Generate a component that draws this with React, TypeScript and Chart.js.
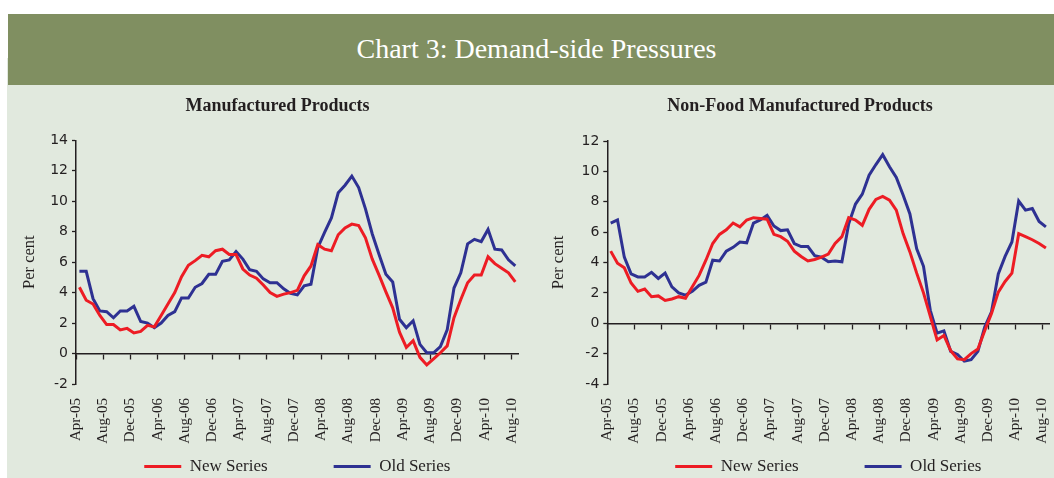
import React, { useEffect, useRef } from 'react';
import { Chart, registerables } from 'chart.js';

Chart.register(...registerables);

// ---------- data ----------
const months = [
  'Apr-05', 'May-05', 'Jun-05', 'Jul-05', 'Aug-05', 'Sep-05', 'Oct-05', 'Nov-05', 'Dec-05', 'Jan-06', 'Feb-06', 'Mar-06',
  'Apr-06', 'May-06', 'Jun-06', 'Jul-06', 'Aug-06', 'Sep-06', 'Oct-06', 'Nov-06', 'Dec-06', 'Jan-07', 'Feb-07', 'Mar-07',
  'Apr-07', 'May-07', 'Jun-07', 'Jul-07', 'Aug-07', 'Sep-07', 'Oct-07', 'Nov-07', 'Dec-07', 'Jan-08', 'Feb-08', 'Mar-08',
  'Apr-08', 'May-08', 'Jun-08', 'Jul-08', 'Aug-08', 'Sep-08', 'Oct-08', 'Nov-08', 'Dec-08', 'Jan-09', 'Feb-09', 'Mar-09',
  'Apr-09', 'May-09', 'Jun-09', 'Jul-09', 'Aug-09', 'Sep-09', 'Oct-09', 'Nov-09', 'Dec-09', 'Jan-10', 'Feb-10', 'Mar-10',
  'Apr-10', 'May-10', 'Jun-10', 'Jul-10', 'Aug-10',
];

const tickLabels = [
  'Apr-05', 'Aug-05', 'Dec-05', 'Apr-06', 'Aug-06', 'Dec-06', 'Apr-07', 'Aug-07', 'Dec-07',
  'Apr-08', 'Aug-08', 'Dec-08', 'Apr-09', 'Aug-09', 'Dec-09', 'Apr-10', 'Aug-10',
];

const mfgNew = [
  4.35, 3.5, 3.25, 2.5, 1.9, 1.9, 1.55, 1.65, 1.35, 1.45, 1.85, 1.75,
  2.5, 3.25, 4.0, 5.05, 5.8, 6.1, 6.45, 6.35, 6.75, 6.85, 6.5, 6.5,
  5.55, 5.15, 4.95, 4.5, 4.0, 3.75, 3.9, 4.0, 4.15, 5.1, 5.75, 7.15,
  6.85, 6.75, 7.8, 8.25, 8.5, 8.4, 7.6, 6.2, 5.15, 4.05, 3.0, 1.4,
  0.4, 0.85, -0.25, -0.75, -0.35, 0.05, 0.5, 2.35, 3.55, 4.65, 5.15, 5.15,
  6.35, 5.9, 5.6, 5.3, 4.7,
];

const mfgOld = [
  5.4, 5.4, 3.6, 2.8, 2.75, 2.35, 2.8, 2.8, 3.1, 2.1, 2.0, 1.7,
  2.0, 2.5, 2.75, 3.65, 3.65, 4.35, 4.6, 5.2, 5.2, 6.05, 6.15, 6.7,
  6.2, 5.5, 5.4, 4.9, 4.65, 4.65, 4.25, 3.95, 3.85, 4.45, 4.55, 6.95,
  7.95, 8.9, 10.55, 11.05, 11.65, 10.9, 9.5, 7.85, 6.5, 5.2, 4.7, 2.25,
  1.7, 2.15, 0.6, 0.05, 0.05, 0.45, 1.55, 4.3, 5.3, 7.2, 7.5, 7.35,
  8.15, 6.85, 6.8, 6.15, 5.75,
];

const nonFoodNew = [
  4.75, 3.95, 3.65, 2.65, 2.1, 2.25, 1.75, 1.8, 1.5, 1.6, 1.75, 1.65,
  2.4, 3.15, 4.15, 5.25, 5.85, 6.15, 6.6, 6.35, 6.8, 6.95, 6.9, 6.85,
  5.85, 5.7, 5.4, 4.75, 4.4, 4.1, 4.2, 4.35, 4.55, 5.25, 5.7, 6.95,
  6.8, 6.45, 7.5, 8.15, 8.35, 8.1, 7.45, 5.9, 4.7, 3.3, 2.0, 0.45,
  -1.1, -0.8, -1.8, -2.35, -2.4, -2.0, -1.7, -0.5, 0.65, 2.05, 2.75, 3.3,
  5.9, 5.7, 5.5, 5.25, 4.95,
];

const nonFoodOld = [
  6.6, 6.8, 4.35, 3.25, 3.05, 3.05, 3.35, 2.95, 3.3, 2.4, 2.0, 1.85,
  2.1, 2.5, 2.7, 4.15, 4.1, 4.75, 5.0, 5.35, 5.3, 6.6, 6.8, 7.1,
  6.4, 6.1, 6.15, 5.25, 5.05, 5.05, 4.45, 4.35, 4.05, 4.1, 4.05, 6.55,
  7.85, 8.5, 9.75, 10.45, 11.1, 10.3, 9.6, 8.45, 7.2, 4.9, 3.75, 0.85,
  -0.65, -0.5, -1.85, -2.05, -2.5, -2.4, -1.85, -0.25, 0.75, 3.25, 4.4, 5.35,
  8.05, 7.45, 7.55, 6.7, 6.35,
];

const seriesNames = ['New Series', 'Old Series'];

// ---------- style ----------
const RED = '#ed1c24';
const BLUE = '#2e3192';
const INK = '#231f20';
const BAND = '#808f61';
const PANEL = '#e1e9de';
const SERIF = '"Liberation Serif", "DejaVu Serif", serif';
const SANS = '"DejaVu Sans", sans-serif';

const LEGEND_PAD = 66;
const LEGEND_FONT = 17;
const X_LABEL_H = 64;
const LEGEND_Y = 82.5; // legend item centre below the plot bottom
const LEGEND_TITLE_H = LEGEND_Y - LEGEND_FONT / 2 - X_LABEL_H - LEGEND_PAD;

type PanelProps = {
  title: string;
  newData: number[];
  oldData: number[];
  yMin: number;
  yMax: number;
  left: number;
  width: number;
  yWidth: number;
  yTitlePad: number;
  rightPad: number;
  titleBottom: number;
};

function ChartPanel(p: PanelProps) {
  const ref = useRef<HTMLCanvasElement | null>(null);

  useEffect(() => {
    if (!ref.current) return;
    const boundaryTicks = (scale: any) => {
      scale.ticks = tickLabels.map((l) => ({ value: months.indexOf(l) - 0.5 }));
    };
    const chart = new Chart(ref.current, {
      type: 'line',
      data: {
        datasets: [
          {
            label: seriesNames[0],
            data: p.newData.map((v, i) => ({ x: i, y: v })),
            borderColor: RED,
            backgroundColor: RED,
            borderWidth: 3,
            pointRadius: 0,
            tension: 0,
            xAxisID: 'x',
            yAxisID: 'y',
          },
          {
            label: seriesNames[1],
            data: p.oldData.map((v, i) => ({ x: i, y: v })),
            borderColor: BLUE,
            backgroundColor: BLUE,
            borderWidth: 3,
            pointRadius: 0,
            tension: 0,
            xAxisID: 'x',
            yAxisID: 'y',
          },
        ],
      },
      options: {
        animation: false,
        responsive: false,
        events: [],
        layout: { padding: 0 },
        plugins: {
          title: {
            display: true,
            text: p.title,
            color: INK,
            font: { family: SERIF, size: 18, weight: 'bold' },
            padding: { top: 10.5, bottom: p.titleBottom },
          },
          legend: {
            position: 'bottom',
            fullSize: false,
            title: {
              display: true,
              text: '',
              font: { size: 1, lineHeight: 1 },
              padding: { top: LEGEND_TITLE_H - 1, bottom: 0 },
            },
            labels: {
              usePointStyle: true,
              pointStyle: 'line',
              pointStyleWidth: 37,
              padding: LEGEND_PAD,
              color: INK,
              font: { family: SERIF, size: LEGEND_FONT },
            },
          },
          tooltip: { enabled: false },
        },
        scales: {
          x: {
            type: 'linear',
            position: { y: 0 },
            min: -0.5,
            max: 64.5,
            afterBuildTicks: boundaryTicks,
            ticks: { display: false },
            grid: { drawOnChartArea: false, drawTicks: true, tickLength: 5, tickColor: INK, tickWidth: 1.3 },
            border: { display: true, color: INK, width: 1.5 },
            afterFit: (s: any) => {
              s.paddingLeft = 0;
              s.paddingRight = 0;
            },
          },
          x2: {
            type: 'linear',
            position: 'bottom',
            min: -0.5,
            max: 64.5,
            afterBuildTicks: boundaryTicks,
            ticks: {
              autoSkip: false,
              maxRotation: 90,
              minRotation: 90,
              padding: 6,
              color: INK,
              font: { family: SERIF, size: 15 },
              callback: (_v: any, i: number) => tickLabels[i],
            },
            grid: { display: false },
            border: { display: false },
            afterFit: (s: any) => {
              s.height = X_LABEL_H;
              s.paddingLeft = 0;
              s.paddingRight = p.rightPad;
            },
          },
          y: {
            type: 'linear',
            position: 'left',
            min: p.yMin,
            max: p.yMax,
            ticks: { stepSize: 2, autoSkip: false, padding: 4, color: INK, font: { family: SANS, size: 14 } },
            grid: { drawOnChartArea: false, drawTicks: true, tickLength: 4, tickColor: INK, tickWidth: 1.3 },
            border: { display: true, color: INK, width: 1.5 },
            title: {
              display: true,
              text: 'Per cent',
              color: INK,
              font: { family: SERIF, size: 16.5 },
              padding: { top: p.yTitlePad, bottom: 0 },
            },
            afterFit: (s: any) => {
              s.width = p.yWidth;
              s.paddingTop = 0;
              s.paddingBottom = 0;
            },
          },
        },
      } as any,
    });
    return () => chart.destroy();
  }, []);

  return (
    <canvas
      ref={ref}
      width={p.width}
      height={400}
      style={{ position: 'absolute', left: p.left, top: 85, width: p.width, height: 400 }}
    />
  );
}

export default function App() {
  return (
    <div
      style={{
        position: 'absolute',
        left: 0,
        top: 0,
        width: 1054,
        height: 478,
        overflow: 'hidden',
        background: '#ffffff',
      }}
    >
      <div style={{ position: 'absolute', left: 7, top: 58, right: 0, bottom: 0, background: PANEL }} />
      <div
        style={{
          position: 'absolute',
          left: 8,
          top: 14,
          width: 1046,
          height: 71,
          background: BAND,
          color: '#ffffff',
          fontFamily: SERIF,
          fontSize: 28,
          display: 'flex',
          alignItems: 'center',
          justifyContent: 'center',
          paddingLeft: 11,
          paddingBottom: 2,
          boxSizing: 'border-box',
        }}
      >
        Chart 3: Demand-side Pressures
      </div>
      <ChartPanel
        title="Manufactured Products"
        newData={mfgNew}
        oldData={mfgOld}
        yMin={-2}
        yMax={14}
        left={0}
        width={555}
        yWidth={76}
        yTitlePad={19.6}
        rightPad={36.3}
        titleBottom={23.2}
      />
      <ChartPanel
        title="Non-Food Manufactured Products"
        newData={nonFoodNew}
        oldData={nonFoodOld}
        yMin={-4}
        yMax={12}
        left={546}
        width={508}
        yWidth={61.3}
        yTitlePad={3.1}
        rightPad={4.7}
        titleBottom={23.9}
      />
    </div>
  );
}
